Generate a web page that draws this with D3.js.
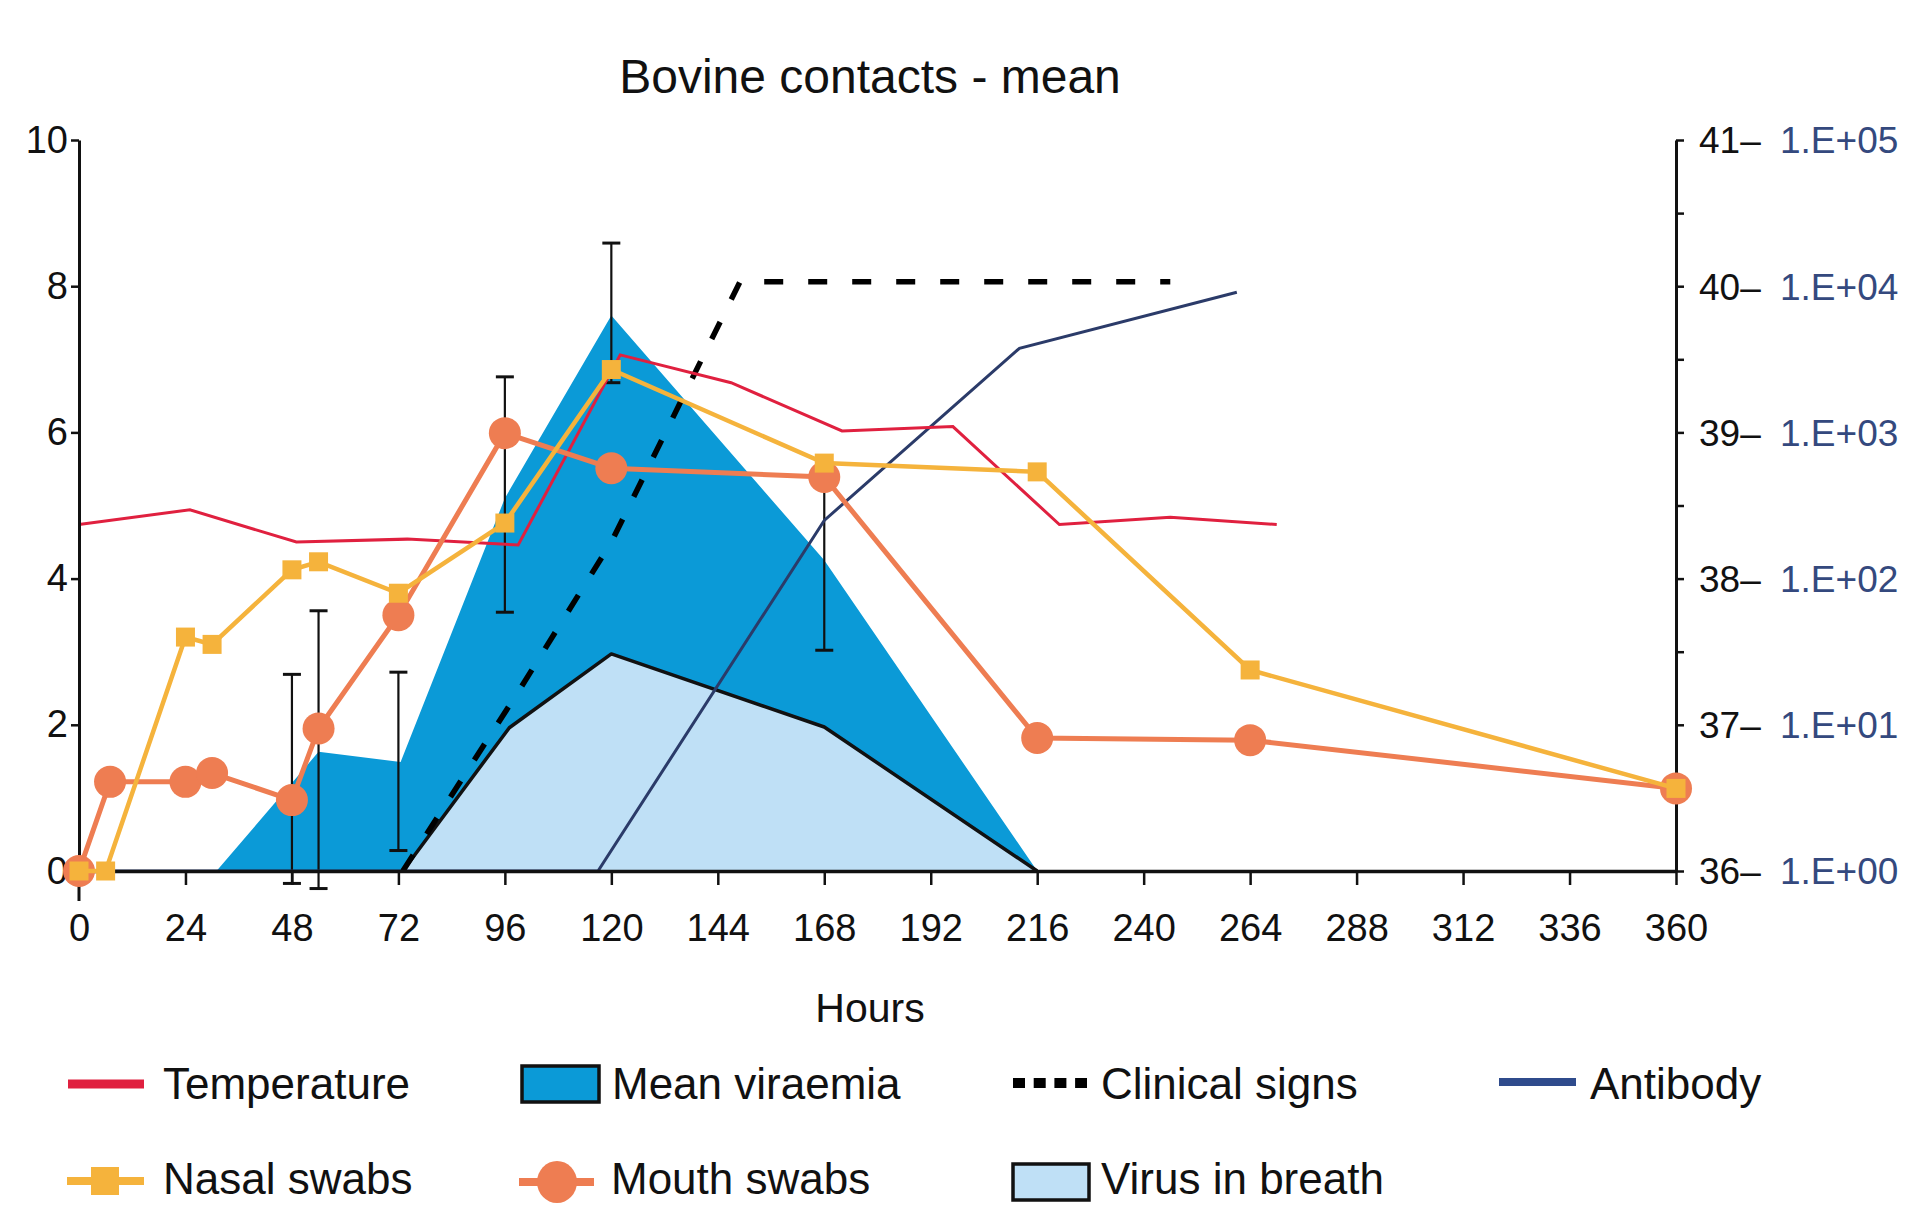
<!DOCTYPE html>
<html>
<head>
<meta charset="utf-8">
<script src="https://cdn.jsdelivr.net/npm/d3@7"></script>
<style>
  html, body { margin: 0; padding: 0; background: #fff; }
  svg { display: block; font-family: "Liberation Sans", Arial, sans-serif; }
</style>
</head>
<body>
<svg id="chart" width="1908" height="1206"></svg>
<script>
// ---------------- DATA ----------------
const hourTicks = d3.range(0, 361, 24);
const leftTicks = [0, 2, 4, 6, 8, 10];
const tempTicks = [36, 37, 38, 39, 40, 41];
const tempMinorTicks = [36.5, 37.5, 38.5, 39.5, 40.5];
const logTicks = [1, 10, 100, 1000, 10000, 100000];
const logTickLabels = ["1.E+00", "1.E+01", "1.E+02", "1.E+03", "1.E+04", "1.E+05"];

// Temperature (deg C, right axis)
const tempHours = [0, 25, 49, 74, 99, 122, 147, 172, 197, 221, 246, 270];
const tempValues = [38.37, 38.47, 38.25, 38.27, 38.23, 39.53, 39.34, 39.01, 39.04, 38.37, 38.42, 38.37];

// Mean viraemia (left axis)
const viraemiaHours = [31, 54, 72.5, 96, 120, 168, 216];
const viraemiaValues = [0, 1.63, 1.49, 5.1, 7.6, 4.25, 0];

// Virus in breath (left axis)
const breathHours = [73, 97, 120, 168, 216];
const breathValues = [0, 1.96, 2.97, 1.97, 0];

// Clinical signs (left axis)
const clinicalHours = [73, 99, 120, 149, 246];
const clinicalValues = [0, 2.45, 4.5, 8.06, 8.06];

// Antibody (log titre, blue right axis)
const antibodyHours = [0, 117, 168, 212, 261];
const antibodyValues = [1, 1, 250, 3760, 9100];

// Nasal swabs (left axis)
const nasalHours = [0, 6, 24, 30, 48, 54, 72, 96, 120, 168, 216, 264, 360];
const nasalValues = [0, 0, 3.2, 3.1, 4.12, 4.23, 3.8, 4.76, 6.86, 5.58, 5.46, 2.75, 1.13];

// Mouth swabs (left axis)
const mouthHours = [0, 7, 24, 30, 48, 54, 72, 96, 120, 168, 216, 264, 360];
const mouthValues = [0, 1.22, 1.22, 1.34, 0.97, 1.95, 3.5, 5.99, 5.51, 5.39, 1.82, 1.79, 1.13];

// Error bars (left axis)
const errHours = [48, 54, 72, 96, 120, 168];
const errLow = [-0.17, -0.24, 0.28, 3.54, 6.68, 3.02];
const errHigh = [2.69, 3.56, 2.72, 6.76, 8.59, 5.39];

const legendNames = ["Temperature", "Mean viraemia", "Clinical signs", "Antibody",
                     "Nasal swabs", "Mouth swabs", "Virus in breath"];

// ---------------- STYLE ----------------
const C = {
  temp: "#e0203f",
  nasal: "#f5b33c",
  mouth: "#ee7d52",
  viraemia: "#0b9ad7",
  breath: "#bfe0f6",
  antibody: "#2b3b69",
  antibodyLegend: "#2f4b8c",
  blueText: "#34497e"
};

const svg = d3.select("#chart");
const L = 79, R = 1676, T = 140, B = 871;

const x = d3.scaleLinear().domain([0, 360]).range([L, R]);
const y = d3.scaleLinear().domain([0, 10]).range([B, T]);
const yT = d3.scaleLinear().domain([36, 41]).range([B, T]);
const yAb = d3.scaleLog().domain([1, 100000]).range([B, T]);

const zip = (xs, ys) => xs.map((d, i) => [d, ys[i]]);

// Title
svg.append("text").attr("x", 870).attr("y", 93).attr("text-anchor", "middle")
  .attr("font-size", 48).attr("fill", "#111").text("Bovine contacts - mean");

// Areas
const area = d3.area().x(d => x(d[0])).y0(y(0)).y1(d => y(d[1]));
svg.append("path").datum(zip(viraemiaHours, viraemiaValues))
  .attr("d", area).attr("fill", C.viraemia);
svg.append("path").datum(zip(breathHours, breathValues))
  .attr("d", area).attr("fill", C.breath);
const line = d3.line().x(d => x(d[0])).y(d => y(d[1]));
svg.append("path").datum(zip(breathHours, breathValues))
  .attr("d", line).attr("fill", "none").attr("stroke", "#111").attr("stroke-width", 3.5)
  .attr("stroke-linejoin", "round");

// Error bars
const eg = svg.append("g").attr("stroke", "#111").attr("stroke-width", 2.2);
errHours.forEach((h, i) => {
  const cx = x(h);
  eg.append("line").attr("x1", cx).attr("x2", cx).attr("y1", y(errLow[i])).attr("y2", y(errHigh[i]));
  eg.append("line").attr("x1", cx - 9).attr("x2", cx + 9).attr("y1", y(errLow[i])).attr("y2", y(errLow[i])).attr("stroke-width", 3);
  eg.append("line").attr("x1", cx - 9).attr("x2", cx + 9).attr("y1", y(errHigh[i])).attr("y2", y(errHigh[i])).attr("stroke-width", 3);
});

// Antibody
svg.append("path").datum(zip(antibodyHours, antibodyValues))
  .attr("d", d3.line().x(d => x(d[0])).y(d => yAb(d[1])))
  .attr("fill", "none").attr("stroke", C.antibody).attr("stroke-width", 3);

// Clinical signs
svg.append("path").datum(zip(clinicalHours, clinicalValues))
  .attr("d", line).attr("fill", "none").attr("stroke", "#000").attr("stroke-width", 5.5)
  .attr("stroke-dasharray", "19,25").attr("stroke-linejoin", "round");

// Temperature
svg.append("path").datum(zip(tempHours, tempValues))
  .attr("d", d3.line().x(d => x(d[0])).y(d => yT(d[1])))
  .attr("fill", "none").attr("stroke", C.temp).attr("stroke-width", 3);

// Axes
const xAxis = d3.axisBottom(x).tickValues(hourTicks).tickSize(14).tickSizeOuter(0).tickPadding(29);
const gx = svg.append("g").attr("transform", `translate(0,${B})`).call(xAxis);
gx.select(".domain").attr("stroke", "#111").attr("stroke-width", 3.5);
gx.selectAll(".tick line").attr("stroke", "#111").attr("stroke-width", 2.5);
gx.selectAll(".tick text").attr("font-size", 38).attr("fill", "#111")
  .attr("font-family", "Liberation Sans, Arial, sans-serif");

const yAxis = d3.axisLeft(y).tickValues(leftTicks).tickSize(8).tickSizeOuter(0).tickPadding(3);
const gy = svg.append("g").attr("transform", `translate(${L},0)`).call(yAxis);
gy.select(".domain").attr("stroke", "#111").attr("stroke-width", 3);
gy.selectAll(".tick line").attr("stroke", "#111").attr("stroke-width", 2.5);
gy.selectAll(".tick text").attr("font-size", 38).attr("fill", "#111")
  .attr("font-family", "Liberation Sans, Arial, sans-serif");
svg.append("line").attr("x1", L).attr("x2", L).attr("y1", B).attr("y2", B + 30)
  .attr("stroke", "#111").attr("stroke-width", 3);

const yRAxis = d3.axisRight(yT).tickValues(tempTicks.concat(tempMinorTicks)).tickSize(8).tickSizeOuter(0).tickFormat("");
const gr = svg.append("g").attr("transform", `translate(${R},0)`).call(yRAxis);
gr.select(".domain").attr("stroke", "#111").attr("stroke-width", 3);
gr.selectAll(".tick line").attr("stroke", "#111").attr("stroke-width", 2.5);

tempTicks.forEach(t => {
  svg.append("text").attr("x", 1699).attr("y", yT(t)).attr("dy", "0.36em")
    .attr("font-size", 37).attr("fill", "#111").text(t + "\u2013");
});
logTicks.forEach((t, i) => {
  svg.append("text").attr("x", 1780).attr("y", yAb(t)).attr("dy", "0.36em")
    .attr("font-size", 37).attr("fill", C.blueText).text(logTickLabels[i]);
});

// Mouth swabs
svg.append("path").datum(zip(mouthHours, mouthValues))
  .attr("d", line).attr("fill", "none").attr("stroke", C.mouth).attr("stroke-width", 5);
svg.append("g").selectAll("circle").data(zip(mouthHours, mouthValues)).join("circle")
  .attr("cx", d => x(d[0])).attr("cy", d => y(d[1])).attr("r", 16).attr("fill", C.mouth);

// Nasal swabs
svg.append("path").datum(zip(nasalHours, nasalValues))
  .attr("d", line).attr("fill", "none").attr("stroke", C.nasal).attr("stroke-width", 4.5);
svg.append("g").selectAll("rect").data(zip(nasalHours, nasalValues)).join("rect")
  .attr("x", d => x(d[0]) - 9.5).attr("y", d => y(d[1]) - 9.5)
  .attr("width", 19).attr("height", 19).attr("fill", C.nasal);

// Axis label
svg.append("text").attr("x", 870).attr("y", 1022).attr("text-anchor", "middle")
  .attr("font-size", 41).attr("fill", "#111").text("Hours");

// Legend
const lg = svg.append("g");
const LF = 44;
const row1 = 1099, row2 = 1194;
// Temperature
lg.append("line").attr("x1", 68).attr("x2", 144).attr("y1", 1084).attr("y2", 1084)
  .attr("stroke", C.temp).attr("stroke-width", 9);
lg.append("text").attr("x", 163).attr("y", row1).attr("font-size", LF).text(legendNames[0]);
// Mean viraemia
lg.append("rect").attr("x", 522).attr("y", 1066).attr("width", 77).attr("height", 36)
  .attr("fill", C.viraemia).attr("stroke", "#111").attr("stroke-width", 3.5);
lg.append("text").attr("x", 612).attr("y", row1).attr("font-size", LF).text(legendNames[1]);
// Clinical signs
lg.append("line").attr("x1", 1013).attr("x2", 1087).attr("y1", 1083).attr("y2", 1083)
  .attr("stroke", "#000").attr("stroke-width", 10).attr("stroke-dasharray", "12,8.7");
lg.append("text").attr("x", 1101).attr("y", row1).attr("font-size", LF).text(legendNames[2]);
// Antibody
lg.append("line").attr("x1", 1499).attr("x2", 1576).attr("y1", 1082).attr("y2", 1082)
  .attr("stroke", C.antibodyLegend).attr("stroke-width", 8);
lg.append("text").attr("x", 1590).attr("y", row1).attr("font-size", LF).text(legendNames[3]);
// Nasal swabs
lg.append("line").attr("x1", 67).attr("x2", 144).attr("y1", 1181).attr("y2", 1181)
  .attr("stroke", C.nasal).attr("stroke-width", 8);
lg.append("rect").attr("x", 91).attr("y", 1167).attr("width", 28).attr("height", 28).attr("fill", C.nasal);
lg.append("text").attr("x", 163).attr("y", row2).attr("font-size", LF).text(legendNames[4]);
// Mouth swabs
lg.append("line").attr("x1", 519).attr("x2", 594).attr("y1", 1182).attr("y2", 1182)
  .attr("stroke", C.mouth).attr("stroke-width", 8);
lg.append("ellipse").attr("cx", 557).attr("cy", 1182).attr("rx", 20).attr("ry", 21).attr("fill", C.mouth);
lg.append("text").attr("x", 611).attr("y", row2).attr("font-size", LF).text(legendNames[5]);
// Virus in breath
lg.append("rect").attr("x", 1013).attr("y", 1164).attr("width", 76).attr("height", 36)
  .attr("fill", C.breath).attr("stroke", "#111").attr("stroke-width", 3.5);
lg.append("text").attr("x", 1101).attr("y", row2).attr("font-size", LF).text(legendNames[6]);
lg.selectAll("text").attr("fill", "#111");
</script>
</body>
</html>
